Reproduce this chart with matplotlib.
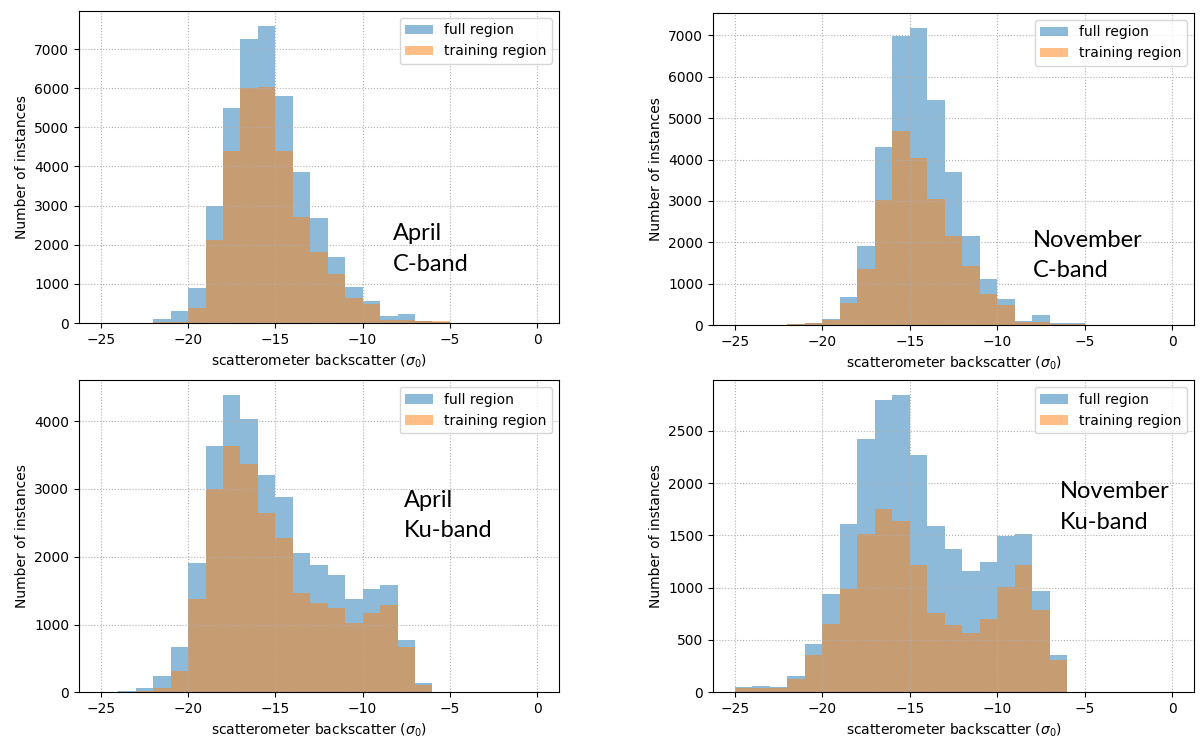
import matplotlib
matplotlib.use("Agg")
import matplotlib.pyplot as plt
import numpy as np


edges = np.arange(-25, 1, 1)
centers = edges[:-1] + 0.5

# counts per 1-unit bin, left edges -25 ... -1
apr_c_full = [0, 0, 10, 110, 306, 884, 2985, 5485, 7262, 7594, 5808, 3852, 2687,
              1684, 918, 570, 179, 238, 51, 34, 5, 3, 5, 2, 0]
apr_c_train = [0, 0, 5, 15, 34, 374, 2109, 4396, 6012, 6037, 4396, 2721, 1820,
               1250, 638, 493, 85, 85, 43, 43, 3, 2, 8, 2, 0]

nov_c_full = [0, 0, 5, 20, 50, 137, 668, 1899, 4312, 6983, 7184, 5430, 3709,
              2148, 1102, 619, 97, 241, 40, 40, 5, 2, 2, 0, 0]
nov_c_train = [0, 0, 3, 15, 45, 130, 531, 1360, 3025, 4682, 4039, 3041, 2140,
               1416, 748, 483, 72, 72, 35, 35, 3, 0, 0, 0, 0]

apr_ku_full = [0, 15, 69, 240, 672, 1904, 3632, 4383, 4025, 3210, 2886, 2061, 1885,
               1728, 1374, 1521, 1580, 766, 133, 0, 0, 0, 0, 0, 0]
apr_ku_train = [0, 5, 15, 59, 319, 1379, 3000, 3632, 3372, 2640, 2277, 1467, 1315,
                1242, 1021, 1163, 1281, 663, 103, 0, 0, 0, 0, 0, 0]

nov_ku_full = [48, 60, 48, 159, 461, 937, 1604, 2424, 2796, 2840, 2268, 1588, 1372,
               1163, 1245, 1496, 1509, 972, 359, 0, 0, 0, 0, 0, 0]
nov_ku_train = [44, 44, 44, 127, 356, 651, 988, 1512, 1750, 1636, 1213, 762, 642,
                565, 696, 1004, 1213, 788, 311, 0, 0, 0, 0, 0, 0]

# (full, training, note, note x, note y of last line's baseline)
panels = [
    (apr_c_full, apr_c_train, "April\nC-band", -8.29, 1336),
    (nov_c_full, nov_c_train, "November\nC-band", -7.96, 1159),
    (apr_ku_full, apr_ku_train, "April\nKu-band", -7.66, 2287),
    (nov_ku_full, nov_ku_train, "November\nKu-band", -6.42, 1563),
]

positions = [
    [0.0658, 0.5623, 0.400, 0.4228],
    [0.5942, 0.5596, 0.4008, 0.4228],
    [0.0658, 0.0619, 0.400, 0.4228],
    [0.5942, 0.0619, 0.4008, 0.4228],
]

fig = plt.figure(figsize=(12, 7.38), dpi=100)

for (full, train, label, tx, ty), pos in zip(panels, positions):
    ax = fig.add_axes(pos)
    ax.hist(centers, bins=edges, weights=full, alpha=0.5, label="full region")
    ax.hist(centers, bins=edges, weights=train, alpha=0.5, label="training region")
    ax.grid(linestyle=":")
    ax.set_xlabel(r"scatterometer backscatter ($\sigma_0$)")
    ax.set_ylabel("Number of instances")
    ax.legend(loc="upper right")
    ax.text(tx, ty, label, fontsize=17, family="Lato", va="baseline",
            linespacing=1.55)

fig.savefig("out.png", dpi=100)
